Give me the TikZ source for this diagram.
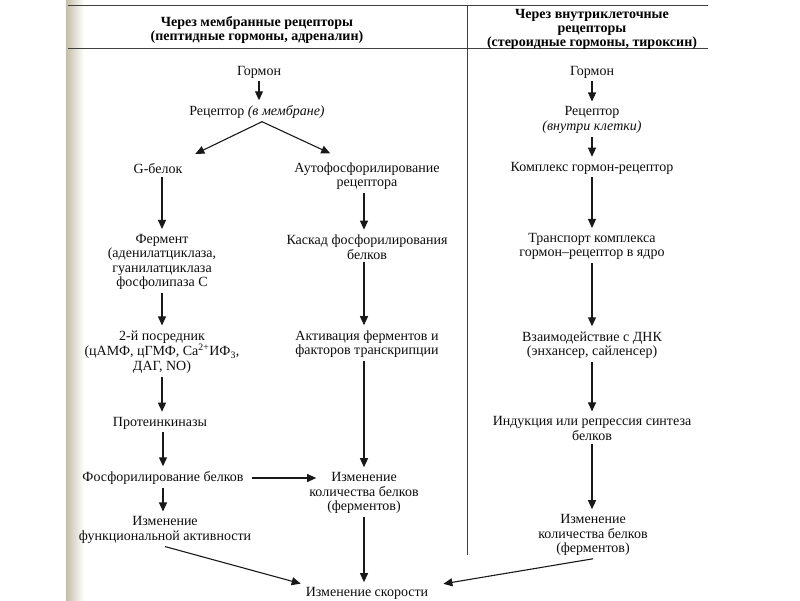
\documentclass[tikz,border=0pt]{standalone}
\usepackage{fontspec}
\setmainfont{Liberation Serif}
\usepackage{tikz}
\usetikzlibrary{arrows.meta}
\definecolor{scanedge}{RGB}{196,190,168}
\tikzstyle{txt} = [align=center, inner sep=3pt, text=black!95, font=\fontsize{14}{14.5}\selectfont]
\tikzstyle{head} = [align=center, inner sep=2pt, text=black, font=\fontsize{14}{14}\selectfont\bfseries]
\tikzstyle{arr} = [-{Triangle[length=9pt,width=8pt]}, line width=1.1pt, black!90, shorten >=2pt]
\tikzstyle{rule} = [line width=0.9pt, black!75]

\begin{document}
\begin{tikzpicture}[x=1pt,y=-1pt]
	\useasboundingbox (0,0) rectangle (800,600);
	\shade[left color=scanedge, right color=white] (66,0) rectangle (84,600);
	\draw[rule] (68,5) -- (708,5);
	\draw[rule] (68,48) -- (708,48);
	\draw[rule] (467,5) -- (467,555);

	\node[head] (hl) at (257,29.5) {Через мембранные рецепторы\\(пептидные гормоны, адреналин)};
	\node[head] (hr) at (592,29.5) {Через внутриклеточные\\рецепторы\\(стероидные гормоны, тироксин)};

	\node[txt] (g1) at (259,72) {Гормон};
	\node[txt] (r1) at (257,112) {Рецептор \textit{(в мембране)}};
	\node[txt] (gb) at (158,169) {G-белок};
	\node[txt] (fer) at (162,262) {Фермент\\(аденилатциклаза,\\гуанилатциклаза\\фосфолипаза С};
	\node[txt] (pos) at (162,352) {2-й посредник\\(цАМФ, цГМФ, Ca\textsuperscript{2+}ИФ\textsubscript{3},\\ДАГ, NO)};
	\node[txt] (pk) at (160,423) {Протеинкиназы};
	\node[txt] (fb) at (163,478) {Фосфорилирование белков};
	\node[txt] (fa) at (165,530) {Изменение\\функциональной активности};

	\node[txt] (af) at (367,176) {Аутофосфорилирование\\рецептора};
	\node[txt] (kf) at (367,247) {Каскад фосфорилирования\\белков};
	\node[txt] (ak) at (367,344) {Активация ферментов и\\факторов транскрипции};
	\node[txt] (ib) at (364,493) {Изменение\\количества белков\\(ферментов)};
	\node[txt, anchor=base] (sk) at (367,596.5) {Изменение скорости};

	\node[txt] (g2) at (592,72) {Гормон};
	\node[txt] (r2) at (592,120) {Рецептор\\\textit{(внутри клетки)}};
	\node[txt] (kg) at (592,168) {Комплекс гормон-рецептор};
	\node[txt] (tr) at (592,246.5) {Транспорт комплекса\\гормон–рецептор в ядро};
	\node[txt] (vd) at (592,345) {Взаимодействие с ДНК\\(энхансер, сайленсер)};
	\node[txt] (ir) at (592,428.5) {Индукция или репрессия синтеза\\белков};
	\node[txt] (ib2) at (593,535) {Изменение\\количества белков\\(ферментов)};

	\draw[arr] (g1.south) -- (g1.south |- r1.north);
	\draw[arr] ([xshift=5pt]r1.south) -- ([xshift=8pt,yshift=6pt]gb.north east);
	\draw[arr] ([xshift=5pt]r1.south) -- ([xshift=-35pt,yshift=5pt]af.north);
	\draw[arr] (gb.south -| fer) -- (fer.north);
	\draw[arr] (fer.south) -- (pos.north);
	\draw[arr] (pos.south) -- (pos.south |- pk.north);
	\draw[arr] (pk.south -| fb) -- (fb.north);
	\draw[arr] (fb.south) -- (fb.south |- fa.north);
	\draw[arr] (af.south -| ib) -- (kf.north -| ib);
	\draw[arr] (kf.south -| ib) -- (ak.north -| ib);
	\draw[arr] (ak.south -| ib) -- (ib.north);
	\draw[arr] ([xshift=5pt]fb.east) -- ([xshift=12pt]fb.east -| ib.west);
	\draw[arr] (fa.south) -- (sk.north west);
	\draw[arr] (ib.south) -- (ib.south |- sk.north);
	\draw[arr] (ib2.south) -- ([xshift=10pt]sk.north east);

	\draw[arr] (g2.south) -- (r2.north);
	\draw[arr] (r2.south) -- (kg.north);
	\draw[arr] (kg.south) -- (tr.north);
	\draw[arr] (tr.south) -- (vd.north);
	\draw[arr] (vd.south) -- (ir.north);
	\draw[arr] (ir.south) -- (ir.south |- ib2.north);
\end{tikzpicture}
\end{document}
